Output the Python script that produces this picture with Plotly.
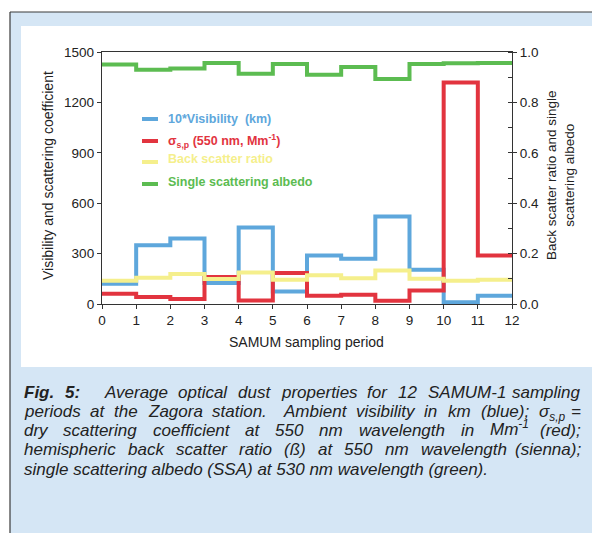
import re
import plotly.graph_objects as go

# ---- data ----
periods = list(range(0, 13))  # period edges 0..12
visibility_x10 = [120, 349, 390, 125, 456, 75, 289, 270, 521, 204, 10, 49]
sigma_sp = [61, 42, 30, 160, 21, 184, 49, 55, 20, 81, 1319, 289]
back_scatter = [0.092, 0.104, 0.119, 0.099, 0.125, 0.096, 0.114, 0.102, 0.133, 0.100, 0.092, 0.096]
ssa = [0.950, 0.930, 0.935, 0.956, 0.914, 0.952, 0.910, 0.940, 0.893, 0.952, 0.955, 0.956]

series_names = ["10*Visibility  (km)", "σ<sub>s,p</sub> (550 nm, Mm<sup>-1</sup>)",
                "Back scatter ratio", "Single scattering albedo"]
colors = ["#5EA7DC", "#E2343F", "#F5EF8C", "#5CBC51"]

W, H = 592, 533
def px(x):
    return x / W
def py(y):
    return 1 - y / H

fig = go.Figure()

def step(vals):
    return vals + [vals[-1]]

fig.add_trace(go.Scatter(x=periods, y=step(visibility_x10), mode="lines", line=dict(shape="hv", width=4, color=colors[0]),
                         name=series_names[0], yaxis="y"))
fig.add_trace(go.Scatter(x=periods, y=step(sigma_sp), mode="lines", line=dict(shape="hv", width=4, color=colors[1]),
                         name=series_names[1], yaxis="y"))
fig.add_trace(go.Scatter(x=periods, y=step(back_scatter), mode="lines", line=dict(shape="hv", width=4, color=colors[2]),
                         name=series_names[2], yaxis="y2"))
fig.add_trace(go.Scatter(x=periods, y=step(ssa), mode="lines", line=dict(shape="hv", width=4, color=colors[3]),
                         name=series_names[3], yaxis="y2"))

FONT = "Liberation Sans, Arial, Helvetica, sans-serif"
axis_font = dict(family=FONT, size=13.5, color="#222")
line_col = "#333"

fig.update_layout(
    width=W, height=H,
    margin=dict(l=0, r=0, t=0, b=0, autoexpand=False),
    paper_bgcolor="white", plot_bgcolor="rgba(0,0,0,0)",
    showlegend=False,
    xaxis=dict(domain=[px(102), px(512)], range=[0, 12], dtick=1, tick0=0,
               showgrid=False, zeroline=False, showline=True, linecolor=line_col, linewidth=1.3,
               mirror=True, ticks="outside", ticklen=4, tickcolor=line_col, tickfont=axis_font,
               anchor="y"),
    yaxis=dict(domain=[py(304), py(52)], range=[0, 1500], dtick=300, tick0=0,
               showgrid=False, zeroline=False, showline=True, linecolor=line_col, linewidth=1.3,
               ticks="outside", ticklen=4, tickcolor=line_col, tickfont=axis_font, anchor="x"),
    yaxis2=dict(domain=[py(304), py(52)], range=[0, 1], dtick=0.2, tick0=0, tickformat=".1f",
                overlaying="y", side="right", anchor="x",
                showgrid=False, zeroline=False, showline=True, linecolor=line_col, linewidth=1.3,
                ticks="outside", ticklen=4, tickcolor=line_col, tickfont=axis_font,
                minor=dict(ticks="inside", dtick=0.1, ticklen=4, tickcolor=line_col)),
)

shapes = []
# outer light-blue frame (filled) with dark top/left border
shapes.append(dict(type="rect", xref="paper", yref="paper", x0=px(10), x1=1, y0=0, y1=py(12),
                   fillcolor="#D5E6F5", line=dict(width=0), layer="below"))
shapes.append(dict(type="line", xref="paper", yref="paper", x0=px(10), x1=1, y0=py(12), y1=py(12),
                   line=dict(color="#3a3a3a", width=1.2), layer="below"))
shapes.append(dict(type="line", xref="paper", yref="paper", x0=px(10), x1=px(10), y0=0, y1=py(12),
                   line=dict(color="#3a3a3a", width=1.2), layer="below"))
# inner white panel
shapes.append(dict(type="rect", xref="paper", yref="paper", x0=px(21), x1=1, y0=py(367), y1=py(26),
                   fillcolor="white", line=dict(width=0), layer="below"))

annotations = []
# legend (line samples + coloured bold labels)
leg_y_line = [119, 141, 162, 184]
leg_y_text = [119, 141, 159, 182]
for i in range(4):
    shapes.append(dict(type="line", xref="paper", yref="paper", x0=px(142), x1=px(158),
                       y0=py(leg_y_line[i]), y1=py(leg_y_line[i]), line=dict(color=colors[i], width=4)))
    annotations.append(dict(xref="paper", yref="paper", x=px(166), y=py(leg_y_text[i]), xanchor="left",
                            yanchor="middle", showarrow=False, text="<b>" + series_names[i] + "</b>",
                            font=dict(family=FONT, size=12.5, color=colors[i])))

title_font = dict(family=FONT, size=14, color="#222")
annotations.append(dict(xref="paper", yref="paper", x=px(307), y=py(342), text="SAMUM sampling period",
                        showarrow=False, xanchor="center", yanchor="middle", font=title_font))
annotations.append(dict(xref="paper", yref="paper", x=px(48), y=py(176), text="Visibility and scattering coefficient",
                        showarrow=False, xanchor="center", yanchor="middle", textangle=-90, font=title_font))
annotations.append(dict(xref="paper", yref="paper", x=px(561), y=py(175),
                        text="Back scatter ratio and single<br>scattering albedo",
                        showarrow=False, xanchor="center", yanchor="middle", textangle=-90,
                        font=dict(title_font, size=13.5)))

# ---- caption (justified, word by word) ----
ARIAL = {
    'a': .556, 'b': .556, 'c': .5, 'd': .556, 'e': .556, 'f': .278, 'g': .556, 'h': .556, 'i': .222,
    'j': .222, 'k': .5, 'l': .222, 'm': .833, 'n': .556, 'o': .556, 'p': .556, 'q': .556, 'r': .333,
    's': .5, 't': .278, 'u': .556, 'v': .5, 'w': .722, 'x': .5, 'y': .5, 'z': .5,
    'A': .667, 'B': .667, 'C': .722, 'D': .722, 'E': .667, 'F': .611, 'G': .778, 'H': .722, 'I': .278,
    'M': .833, 'N': .722, 'O': .778, 'P': .667, 'R': .722, 'S': .667, 'T': .611, 'U': .722, 'Z': .611,
    ' ': .278, '(': .333, ')': .333, '.': .278, ',': .278, ';': .278, ':': .278, '-': .333, '=': .584,
    'ß': .611, 'σ': .6,
}
for d in "0123456789":
    ARIAL[d] = .556

def width_em(markup):
    w = 0.0
    scale = 1.0
    bold = False
    for part in re.split(r'(<[^>]+>)', markup):
        if part.startswith('<'):
            tag = part.strip('<>/')
            closing = part.startswith('</')
            if tag in ('sub', 'sup'):
                scale = 1.0 if closing else 0.7
            elif tag == 'b':
                bold = not closing
            continue
        for ch in part:
            cw = ARIAL.get(ch, .556)
            if bold:
                cw *= 1.06
            w += cw * scale
    return w

CAP_SIZE = 17
cap_font = dict(family=FONT, size=CAP_SIZE, color="#222", style="italic")
CAP_LEFT, CAP_RIGHT = 22, 583

caption_lines = [
    (["<b>Fig.</b>", "<b>5:</b>", "Average", "optical", "dust", "properties", "for", "12", "SAMUM-1", "sampling"],
     [1, 2.2, 1, 1, 1, 1, 1, 1, 1]),
    (["periods", "at", "the", "Zagora", "station.", "Ambient", "visibility", "in", "km", "(blue);",
      "σ<sub>s,p</sub>", "="],
     [1, 1, 1, 1, 1.6, 1, 1, 1, 1, 1, 1]),
    (["dry", "scattering", "coefficient", "at", "550", "nm", "wavelength", "in", "Mm<sup>-1</sup>", "(red);"],
     [1] * 9),
    (["hemispheric", "back", "scatter", "ratio", "(ß)", "at", "550", "nm", "wavelength", "(sienna);"],
     [1] * 9),
]
last_line = "single scattering albedo (SSA) at 530 nm wavelength (green)."
cap_base = [398, 417, 436, 455, 475]

def yc(base):
    return base - 0.35 * CAP_SIZE

for (words, gaps), base in zip(caption_lines, cap_base):
    ws = [width_em(w) * CAP_SIZE for w in words]
    unit = (CAP_RIGHT - CAP_LEFT - sum(ws)) / sum(gaps)
    x = CAP_LEFT
    for k, (wd, wpx) in enumerate(zip(words, ws)):
        dy = 0
        if "<sub>" in wd:
            dy = 2
        elif "<sup>" in wd:
            dy = -2.5
        last = k == len(words) - 1
        annotations.append(dict(xref="paper", yref="paper", x=px(CAP_RIGHT if last else x), y=py(yc(base) + dy),
                                text=wd, showarrow=False, xanchor="right" if last else "left",
                                yanchor="middle", font=cap_font))
        if not last:
            x += wpx + gaps[k] * unit

annotations.append(dict(xref="paper", yref="paper", x=px(CAP_LEFT), y=py(yc(cap_base[4])), text=last_line,
                        showarrow=False, xanchor="left", yanchor="middle", font=cap_font))

fig.update_layout(shapes=shapes, annotations=annotations)
fig.write_html("out.html", config={"displayModeBar": False},
               post_script="document.body.style.margin='0px';")
